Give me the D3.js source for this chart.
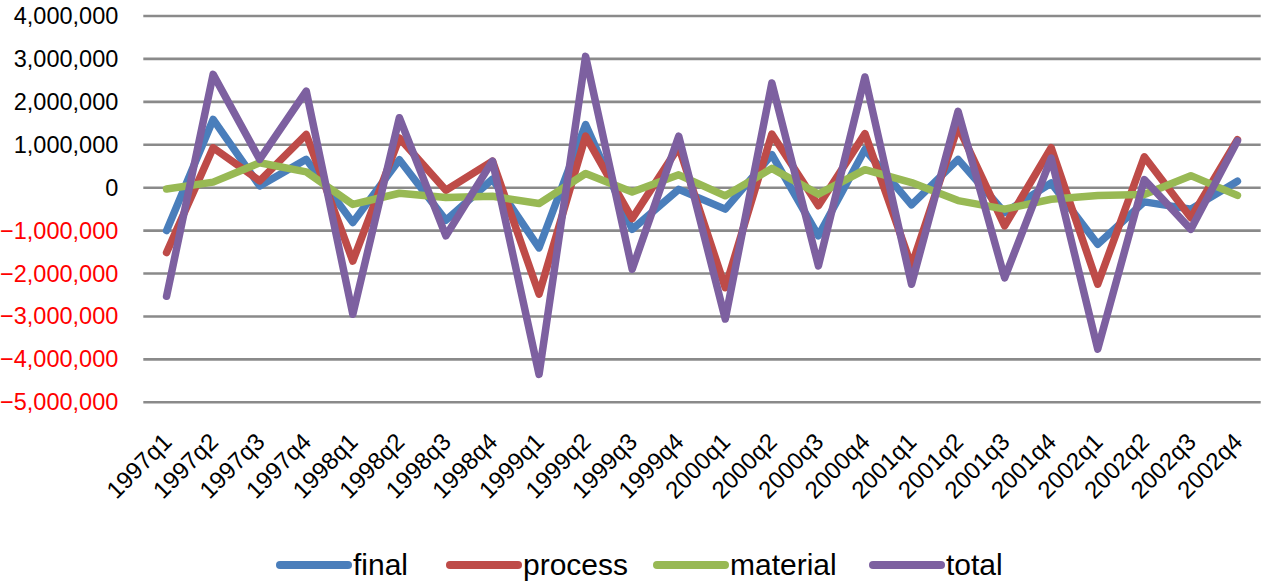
<!DOCTYPE html>
<html>
<head>
<meta charset="utf-8">
<script src="https://cdn.jsdelivr.net/npm/d3@7"></script>
<style>
  html, body { margin: 0; padding: 0; background: #fff; }
  svg { display: block; }
  text { font-family: "Liberation Sans", Arial, sans-serif; }
</style>
</head>
<body>
<svg id="chart" width="1265" height="584"></svg>
<script>
// Quarterly categories
const quarters = [
  "1997q1","1997q2","1997q3","1997q4",
  "1998q1","1998q2","1998q3","1998q4",
  "1999q1","1999q2","1999q3","1999q4",
  "2000q1","2000q2","2000q3","2000q4",
  "2001q1","2001q2","2001q3","2001q4",
  "2002q1","2002q2","2002q3","2002q4"
];

// Series values
const finalVals = [
  -1000000, 1590000, 40000, 660000,
  -810000, 650000, -760000, 200000,
  -1400000, 1470000, -970000, -40000,
  -500000, 770000, -1120000, 890000,
  -400000, 660000, -580000, 110000,
  -1320000, -330000, -500000, 150000
];
const processVals = [
  -1510000, 930000, 160000, 1240000,
  -1710000, 1160000, -60000, 620000,
  -2480000, 1200000, -720000, 950000,
  -2330000, 1250000, -420000, 1260000,
  -1820000, 1430000, -890000, 930000,
  -2250000, 720000, -700000, 1120000
];
const materialVals = [
  -30000, 130000, 580000, 370000,
  -390000, -130000, -230000, -200000,
  -370000, 330000, -100000, 300000,
  -190000, 450000, -150000, 420000,
  120000, -300000, -500000, -270000,
  -180000, -160000, 280000, -180000
];
const totalVals = [
  -2530000, 2640000, 660000, 2250000,
  -2950000, 1630000, -1120000, 620000,
  -4350000, 3060000, -1900000, 1200000,
  -3060000, 2440000, -1820000, 2580000,
  -2250000, 1780000, -2100000, 690000,
  -3760000, 190000, -970000, 1090000
];

// Axis ticks
const yTicks = [4000000, 3000000, 2000000, 1000000, 0,
  -1000000, -2000000, -3000000, -4000000, -5000000];

const seriesNames = ["final", "process", "material", "total"];
const seriesColors = ["#4a7ebb", "#be4b48", "#98b954", "#7d60a0"];
const seriesData = [finalVals, processVals, materialVals, totalVals];

const svg = d3.select("#chart");

const plot = { left: 143.3, right: 1260.7, top: 16, bottom: 402.3 };

const x = d3.scalePoint()
  .domain(quarters)
  .range([plot.left, plot.right])
  .padding(0.5);

const y = d3.scaleLinear()
  .domain([-5000000, 4000000])
  .range([plot.bottom, plot.top]);

// Horizontal gridlines
svg.append("g")
  .selectAll("line")
  .data(yTicks)
  .join("line")
  .attr("x1", plot.left)
  .attr("x2", plot.right)
  .attr("y1", d => y(d))
  .attr("y2", d => y(d))
  .attr("stroke", "#8a8a8a")
  .attr("stroke-width", 2.6);

// Y axis labels (negatives in red)
const yAxis = d3.axisLeft(y)
  .tickValues(yTicks)
  .tickFormat(d3.format(","))
  .tickSize(0)
  .tickPadding(25);

const yg = svg.append("g")
  .attr("transform", `translate(${plot.left},0)`)
  .call(yAxis);
yg.select(".domain").remove();
yg.selectAll("text")
  .attr("font-size", 23.5)
  .attr("font-family", "'Liberation Sans', Arial, sans-serif")
  .attr("fill", d => d < 0 ? "#ff0000" : "#000");

// X axis labels, rotated
const xAxis = d3.axisBottom(x).tickSize(0).tickPadding(0);
const xg = svg.append("g")
  .attr("transform", `translate(0,${plot.bottom})`)
  .call(xAxis);
xg.select(".domain").remove();
xg.selectAll("text")
  .attr("font-size", 24)
  .attr("font-family", "'Liberation Sans', Arial, sans-serif")
  .attr("fill", "#000")
  .attr("text-anchor", "end")
  .attr("dy", null)
  .attr("y", 0)
  .attr("transform", "translate(6,41) rotate(-45)");

// Series lines
const line = d3.line()
  .x((d, i) => x(quarters[i]))
  .y(d => y(d));

svg.append("g")
  .selectAll("path")
  .data(seriesData)
  .join("path")
  .attr("d", d => line(d))
  .attr("fill", "none")
  .attr("stroke", (d, i) => seriesColors[i])
  .attr("stroke-width", 7.5)
  .attr("stroke-linejoin", "round")
  .attr("stroke-linecap", "round");

// Legend
const legendX = [280, 450, 657, 873];
const legend = svg.append("g");
const items = legend.selectAll("g")
  .data(seriesNames)
  .join("g")
  .attr("transform", (d, i) => `translate(${legendX[i]},565)`);
items.append("line")
  .attr("x1", 0).attr("x2", 68)
  .attr("y1", 0).attr("y2", 0)
  .attr("stroke", (d, i) => seriesColors[i])
  .attr("stroke-width", 8)
  .attr("stroke-linecap", "round");
items.append("text")
  .attr("x", 73)
  .attr("y", 10)
  .attr("font-size", 30)
  .attr("fill", "#000")
  .text(d => d);
</script>
</body>
</html>
